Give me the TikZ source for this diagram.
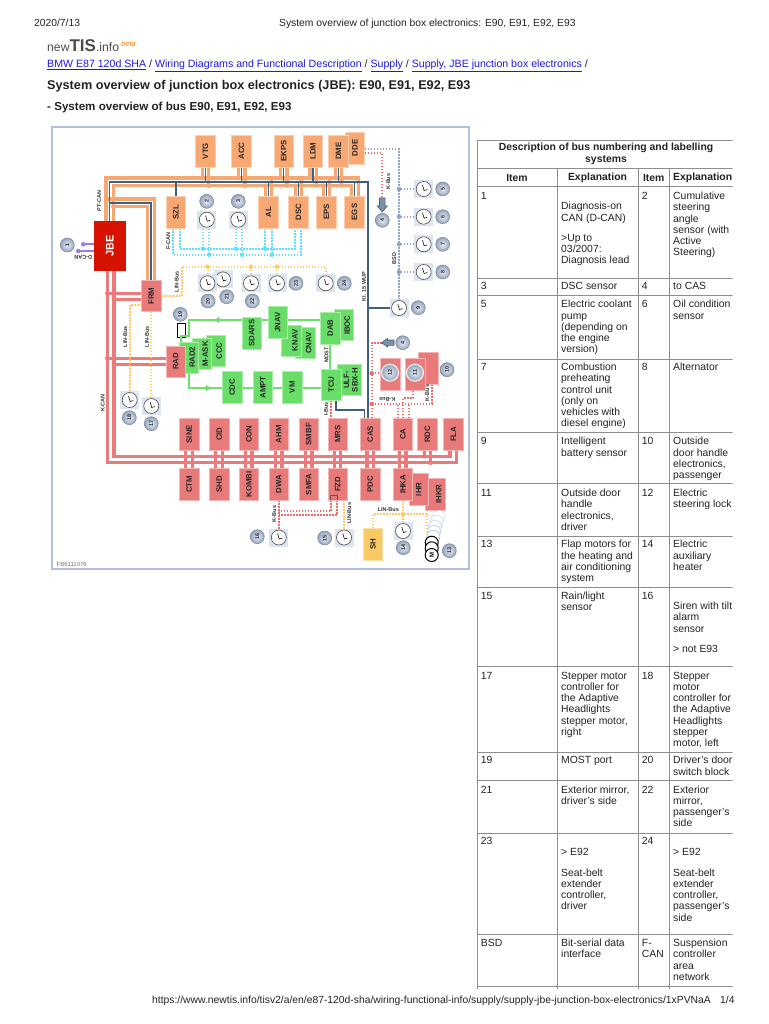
\documentclass[tikz,border=0pt]{standalone}
\usepackage{fontspec}
\usepackage{graphicx}
\setmainfont{Liberation Sans}
\usetikzlibrary{backgrounds,arrows.meta,calc}
\definecolor{orgbox}{HTML}{F7A873}
\definecolor{redbox}{HTML}{E97A7A}
\definecolor{grnbox}{HTML}{68DE68}
\definecolor{jbered}{HTML}{D61200}
\definecolor{shyel}{HTML}{F9C964}
\definecolor{orgline}{HTML}{F7A872}
\definecolor{redline}{HTML}{EC7A7A}
\definecolor{grnline}{HTML}{6EE06E}
\definecolor{darkbus}{HTML}{40607F}
\definecolor{cyanbus}{HTML}{5CE2FF}
\definecolor{yelbus}{HTML}{FFCC66}
\definecolor{rdotbus}{HTML}{F06C6C}
\definecolor{bsdbus}{HTML}{8EA6CF}
\definecolor{purp}{HTML}{9A7DEB}
\definecolor{frameblue}{HTML}{AFC0DE}
\definecolor{gaugebg}{HTML}{DCE5F0}
\definecolor{gridg}{HTML}{8E8E8E}
\definecolor{linkblue}{HTML}{1A1AE6}
\definecolor{bodytxt}{HTML}{222222}
\newcommand{\vt}[1]{\rotatebox{90}{#1}}
\newcommand{\vs}[1]{\hspace*{7pt}\rotatebox{90}{#1}}
\newcommand{\lnk}[1]{{\color{linkblue}\underline{#1}}}
\newcommand{\jdot}[2]{\fill[#1] #2 circle (2.3pt);}
\newcommand{\tcell}[4]{\node[tcellst] (#1) at (#2,{#3-4.3}) {\rule{0pt}{8pt}#4};}
\newcommand{\gauge}[3]{%
  \node[gaugesq] (#1) at (#2,#3) {};
  \node[gaugedial] (#1d) at (#1.center) {};
  \draw[line width=.55pt,black] ($(#1.center)+(-1.2,-4)$) -- ($(#1.center)+(.4,1.5)$) -- ($(#1.center)+(3.6,.6)$);
}
\newcommand{\numb}[4]{\node[numdisc] (#1) at (#2,#3) {\vt{#4}};}
\newcommand{\ptop}[1]{%
  \draw[orgb] ([xshift=-3pt]#1.south) -- ([xshift=-3pt]#1.south |- pu);
  \draw[orgb] ([xshift=3.3pt]#1.south) -- ([xshift=3.3pt]#1.south |- pl);
  \draw[dkb] (#1.south) -- (#1.south |- pd);
  \jdot{orgline}{([xshift=-3pt]#1.south |- pu)}
  \jdot{orgline}{([xshift=3.3pt]#1.south |- pl)}
}
\newcommand{\pbot}[1]{%
  \draw[orgb] ([xshift=-3.2pt]#1.north) -- ([xshift=-3.2pt]#1.north |- pl);
  \draw[orgb] ([xshift=3pt]#1.north) -- ([xshift=3pt]#1.north |- pu);
  \draw[dkb] (#1.north) -- (#1.north |- pd);
  \jdot{orgline}{([xshift=-3.2pt]#1.north |- pl)}
  \jdot{orgline}{([xshift=3pt]#1.north |- pu)}
}
\newcommand{\kstub}[2]{%
  \draw[kb] ([xshift=-3.5pt]#1.south) -- ([xshift=-3.5pt]#2.north);
  \draw[kb] ([xshift=3pt]#1.south) -- ([xshift=3pt]#2.north);
  \jdot{redline}{([xshift=-3.5pt]#1.south |- ku)}
  \jdot{redline}{([xshift=3pt]#1.south |- kl)}
}
\tikzset{
  ecu/.style={minimum width=19.5pt,minimum height=32pt,inner sep=0,outer sep=0,line width=.6pt,font=\fontsize{7.8}{9}\selectfont\bfseries,text=black!85},
  orgecu/.style={ecu,fill=orgbox,draw=orgbox!55!white},
  redecu/.style={ecu,fill=redbox,draw=redbox!55!white},
  grnecu/.style={ecu,fill=grnbox,draw=grnbox!55!white},
  gaugesq/.style={fill=gaugebg,minimum width=19pt,minimum height=18pt,inner sep=0,outer sep=0},
  gaugedial/.style={circle,fill=white,draw=black!70,line width=.6pt,minimum size=15pt,inner sep=0},
  numdisc/.style={circle,shading=radial,inner color=gaugebg!70!white,outer color=frameblue!85!black,draw=frameblue!70!black,line width=.5pt,minimum size=14pt,inner sep=0,font=\fontsize{5.4}{6}\selectfont\bfseries,text=black!85},
  buslab/.style={inner sep=0,font=\fontsize{5.5}{6}\selectfont\bfseries,text=black!80},
  orgb/.style={draw=orgline,line width=3.5pt},
  dkb/.style={draw=darkbus,line width=1.6pt},
  kb/.style={draw=redline,line width=3.4pt},
  gb/.style={draw=grnline,line width=2.2pt},
  cyb/.style={draw=cyanbus,line width=2pt,dash pattern=on 1.7pt off 1.3pt},
  yeb/.style={draw=yelbus,line width=2pt,dash pattern=on 1.7pt off 1.3pt},
  rdb/.style={draw=rdotbus,line width=2pt,dash pattern=on 1.7pt off 1.3pt},
  bsb/.style={draw=bsdbus,line width=2pt,dash pattern=on 1.7pt off 1.3pt},
  tcellst/.style={anchor=north west,inner sep=0,align=left,text=bodytxt,font=\fontsize{10.4}{11.2}\selectfont},
  thead/.style={inner sep=0,align=center,text=bodytxt,font=\fontsize{10.4}{11.7}\selectfont\bfseries},
  pagetxt/.style={anchor=base west,inner sep=0,text=bodytxt},
}
\begin{document}
\begin{tikzpicture}[x=1pt,y=-1pt]
\useasboundingbox (0,0) rectangle (768,1024);

% ---------- page header
\node[pagetxt,font=\fontsize{10.3}{11}\selectfont] (hdate) at (34,27) {2020/7/13};
\node[pagetxt,font=\fontsize{10.3}{11}\selectfont] (htitle) at (279,27) {System overview of junction box electronics: E90, E91, E92, E93};
\node[pagetxt,text=black!70,font=\fontsize{12.2}{14}\selectfont] (logo) at (47,52) {new{\fontsize{17}{18}\selectfont\bfseries TIS}.info};
\node[pagetxt,text=orange,font=\fontsize{7.5}{8}\selectfont\itshape] (logob) at (121,47) {beta};
\node[pagetxt,font=\fontsize{10.6}{12}\selectfont] (links) at (47,68) {\lnk{BMW E87 120d SHA} / \lnk{Wiring Diagrams and Functional Description} / \lnk{Supply} / \lnk{Supply, JBE junction box electronics} /};
\node[pagetxt,font=\fontsize{12.67}{15}\selectfont\bfseries] (ttl) at (47,89.5) {System overview of junction box electronics (JBE): E90, E91, E92, E93};
\node[pagetxt,font=\fontsize{11.6}{13}\selectfont\bfseries] (sttl) at (47,111) {- System overview of bus E90, E91, E92, E93};
\node[pagetxt,font=\fontsize{10.34}{11}\selectfont] (furl) at (152,1003.5) {https://www.newtis.info/tisv2/a/en/e87-120d-sha/wiring-functional-info/supply/supply-jbe-junction-box-electronics/1xPVNaA};
\node[pagetxt,font=\fontsize{10.34}{11}\selectfont] (fpg) at (720,1003.5) {1/4};

% ---------- ECU boxes
\node[orgecu] (DDE) at (355,148) {\vt{DDE}};
\node[orgecu] (VTG) at (205.4,151) {\vt{VTG}};
\node[orgecu] (ACC) at (241.5,151) {\vt{ACC}};
\node[orgecu] (EKPS) at (283.6,151) {\vt{EKPS}};
\node[orgecu] (LDM) at (313,151) {\vt{LDM}};
\node[orgecu] (DME) at (338.4,151) {\vt{DME}};
\node[orgecu] (SZL) at (176,212) {\vt{SZL}};
\node[orgecu] (AL) at (268.5,212) {\vt{AL}};
\node[orgecu] (DSC) at (298.5,212) {\vt{DSC}};
\node[orgecu] (EPS) at (326.5,212) {\vt{EPS}};
\node[orgecu] (EGS) at (354.5,212) {\vt{EGS}};

\node[ecu,fill=jbered,minimum width=32.6pt,minimum height=50pt,text=white,font=\fontsize{11}{12}\selectfont\bfseries] (JBE) at (110,246) {\vt{JBE}};
\node[redecu,minimum height=31pt] (FRM) at (151.3,296.2) {\vt{FRM}};

\node[grnecu,minimum height=31pt] (CCC) at (215.7,351) {\vs{CCC}};
\node[grnecu,minimum height=31pt] (MASK) at (201.7,354) {\vs{M-ASK}};
\node[grnecu,minimum height=31pt] (RADZ) at (188.7,357.3) {\vs{RAD2}};
\node[redecu,minimum height=31pt] (RAD) at (175.7,361.3) {\vt{RAD}};
\node[grnecu] (SDARS) at (251.7,333) {\vt{SDARS}};
\node[grnecu,minimum height=31pt] (CNAV) at (305.2,343) {\vs{CNAV}};
\node[grnecu,minimum height=31pt] (KNAV) at (291.5,340.5) {\vs{KNAV}};
\node[grnecu] (JNAV) at (277.8,322.5) {\vt{JNAV}};
\node[grnecu,minimum height=31pt] (IBOC) at (343.8,325.2) {\vs{IBOC}};
\node[grnecu] (DAB) at (330.2,328) {\vt{DAB}};
\node[grnecu,minimum width=24.7pt,minimum height=31pt] (ULF) at (349.3,380) {\hspace*{3pt}\vt{\shortstack{ULF-\\SBX-H}}};
\node[grnecu,minimum height=31pt] (TCU) at (331.3,384.5) {\vt{TCU}};
\node[grnecu] (CDC) at (232.3,387.3) {\vt{CDC}};
\node[grnecu] (AMPT) at (263,387.3) {\vt{AMPT}};
\node[grnecu] (VM) at (292.3,387.3) {\vt{VM}};

\node[redecu] (SINE) at (189.2,434.2) {\vt{SINE}};
\node[redecu] (CID) at (219.2,434.2) {\vt{CID}};
\node[redecu] (CON) at (248.9,434.2) {\vt{CON}};
\node[redecu] (AHM) at (278.8,434.2) {\vt{AHM}};
\node[redecu] (SMBF) at (308.8,434.2) {\vt{SMBF}};
\node[redecu] (MRS) at (337.7,434.2) {\vt{MRS}};
\node[redecu] (CAS) at (370.3,434.2) {\vt{CAS}};
\node[redecu] (CA) at (403,434.2) {\vt{CA}};
\node[redecu] (RDC) at (427.5,434.2) {\vt{RDC}};
\node[redecu] (FLA) at (453.5,434.2) {\vt{FLA}};
\node[redecu] (CTM) at (189.2,484.3) {\vt{CTM}};
\node[redecu] (SHD) at (219.2,484.3) {\vt{SHD}};
\node[redecu] (KOMBI) at (248.9,484.3) {\vt{KOMBI}};
\node[redecu] (DWA) at (278.8,484.3) {\vt{DWA}};
\node[redecu] (SMFA) at (308.8,484.3) {\vt{SMFA}};
\node[redecu] (FZD) at (337.7,484.3) {\vt{FZD}};
\node[redecu] (PDC) at (370.3,484.3) {\vt{PDC}};
\node[redecu] (IHKR) at (435.3,494.2) {\vs{IHKR}};
\node[redecu] (IHR) at (418.8,489.3) {\vt{IHR}};
\node[redecu] (IHKA) at (403,484.3) {\vt{IHKA}};
\node[ecu,fill=shyel,draw=shyel!55!white] (SH) at (373,544.2) {\vt{SH}};
\node[redecu,minimum width=20pt] (BTEN) at (428.3,368.2) {};
\node[redecu,minimum width=20pt] (BELV) at (415,374.2) {};
\node[redecu,minimum width=20pt] (BTWL) at (390,374.2) {};
\draw[line width=.5pt,draw=black!45!redbox] (330,500.2) -- (330,495.7) -- (337.7,495.7) -- (337.7,500.2);

% ---------- gauges
\gauge{g21}{223}{279.4}
\gauge{g20}{207.5}{283.3}
\gauge{g22}{251}{283.3}
\gauge{g23}{277}{283.3}
\gauge{g24}{325.7}{283.3}
\gauge{g2}{206.8}{219.7}
\gauge{g3}{238.3}{219.7}
\gauge{g5}{423.7}{189}
\gauge{g6}{423.7}{216.7}
\gauge{g7}{423.7}{244.3}
\gauge{g8}{423.7}{272}
\gauge{g9}{399}{308}
\gauge{g18}{129.7}{400}
\gauge{g17}{151.3}{406}
\gauge{g16}{278.8}{537.5}
\gauge{g15}{344}{537.5}
\gauge{g14}{403}{531}

% ---------- motors (13)
\foreach \mx/\my/\mo in {438.3/516.7/25,436.7/521.7/35,435/526.7/45,434/531.7/55,433.3/536.7/70}{
  \draw[draw=frameblue,fill=white,line width=.7pt,opacity=\mo/100+.2] (\mx,\my) circle (6.5pt);
}
\draw[draw=black,fill=white,line width=1pt] (431.7,542.7) circle (6.5pt);
\draw[draw=black,fill=white,line width=1pt] (431.7,548.3) circle (6.5pt);
\node[circle,draw=black,fill=white,line width=1pt,minimum size=13pt,inner sep=0,font=\fontsize{6}{7}\selectfont\bfseries] (mot) at (431.7,555) {\vt{M}};

% ---------- numbered discs
\numb{n1}{67.3}{245}{1}
\numb{n2}{206.7}{201.3}{2}
\numb{n3}{238.3}{201.3}{3}
\numb{n4a}{382.3}{220.3}{4}
\numb{n4b}{402.7}{342.7}{4}
\numb{n5}{442.7}{189}{5}
\numb{n6}{442.7}{216.7}{6}
\numb{n7}{442.7}{244.3}{7}
\numb{n8}{442.7}{272}{8}
\numb{n9}{418.3}{307.7}{9}
\numb{n10}{447}{369.7}{10}
\node[numdisc,minimum size=17pt,draw=white,line width=1pt] (n11) at (415,372.7) {\vt{11}};
\node[numdisc,minimum size=17pt,draw=white,line width=1pt] (n12) at (390,372.7) {\vt{12}};
\numb{n13}{449.3}{550.7}{13}
\numb{n14}{403.3}{547.7}{14}
\numb{n15}{324.7}{538}{15}
\numb{n16}{257.3}{536.7}{16}
\numb{n17}{151.3}{423.7}{17}
\numb{n18}{129.3}{417.7}{18}
\numb{n19}{180.3}{314.3}{19}
\numb{n20}{208}{301}{20}
\numb{n21}{226.7}{296.7}{21}
\numb{n22}{252.3}{301}{22}
\numb{n23}{296}{283.3}{23}
\numb{n24}{344.3}{283.3}{24}

% ---------- bus labels
\node[buslab,rotate=90] (lpt) at (99.3,201) {PT-CAN};
\node[buslab,rotate=90] (lf) at (168.3,241) {F-CAN};
\node[buslab,rotate=180] (ld) at (83.3,257.3) {D-CAN};
\node[buslab,rotate=90] (llin1) at (176.7,281.7) {LIN-Bus};
\node[buslab,rotate=90] (llin2) at (125.3,336.7) {LIN-Bus};
\node[buslab,rotate=90] (llin3) at (147,336.7) {LIN-Bus};
\node[buslab,rotate=90] (lk) at (102.7,403) {K-CAN};
\node[buslab,rotate=90] (lkb1) at (388.3,181.7) {K-Bus};
\node[buslab,rotate=90] (lbsd) at (394.3,258.3) {BSD};
\node[buslab,rotate=90] (lkl) at (364,286.7) {Kl. 15 WUP};
\node[buslab,rotate=90] (lmost) at (326.5,355) {MOST};
\node[buslab,rotate=90] (libus) at (326,409) {I-Bus};
\node[buslab,rotate=180] (lkb2) at (387.3,399.7) {K-Bus};
\node[buslab,rotate=90] (lkb3) at (427.3,393) {K-Bus};
\node[buslab,rotate=90] (lkb4) at (274.3,514) {K-Bus};
\node[buslab,rotate=90] (llin4) at (349.3,513.3) {LIN-Bus};
\node[buslab] (llin5) at (388.3,510) {LIN-Bus};
\node[inner sep=0,text=black!55,font=\fontsize{6}{7}\selectfont] (fig) at (71.7,564) {FB6111076};

% ---------- connectors, under the boxes
\coordinate (pu) at (0,178);
\coordinate (pd) at (0,182.3);
\coordinate (pl) at (0,185.7);
\coordinate (dkc) at (368,182.3);
\coordinate (ku) at (0,456.3);
\coordinate (kl) at (0,462.7);
\coordinate (cu) at (0,248.7);
\coordinate (cl) at (0,254.7);
\coordinate (ly) at (181.7,266.7);
\coordinate (kA) at (107.3,0);
\coordinate (kB) at (114,0);
\coordinate (ptA) at (106,199);
\coordinate (ptB) at (109.3,203);
\coordinate (ptC) at (113.3,206.3);
\coordinate (ryU) at (371.7,373.3);
\coordinate (ryL) at (371.7,404);
\coordinate (arD) at (382.3,198);
\coordinate (arL) at (381.7,342.7);
\coordinate (rw1) at (0,511.3);
\coordinate (rw2) at (0,514.7);
\coordinate (lz) at (0,514.3);
\coordinate (motin) at (426.7,540);
\coordinate (tc) at (364.3,410);
\coordinate (g1a) at (189,320);
\coordinate (g1b) at (189,336);
\coordinate (g1c) at (180.7,336);
\coordinate (g2a) at (189,388);
\coordinate (d1) at (83.3,244.3);
\coordinate (d2) at (78.3,251);

\begin{scope}[on background layer]
  \draw[frameblue,line width=1.5pt] (52,127) rectangle (469,569);
  % PT-CAN
  \draw[orgb] ([xshift=-4pt]JBE.north) |- ([xshift=3.8pt]EGS.north |- pu) -- ([xshift=3.8pt]EGS.north);
  \draw[orgb] ([xshift=3.3pt]JBE.north) |- ([xshift=-2.8pt]EGS.north |- pl) -- ([xshift=-2.8pt]EGS.north);
  \draw[orgb] (ptA) -| ([xshift=3pt]FRM.north);
  \draw[orgb] (ptC) -| ([xshift=-4pt]FRM.north);
  \jdot{orgline}{(ptA)}
  \jdot{orgline}{(ptC)}
  \ptop{VTG}\ptop{ACC}\ptop{EKPS}\ptop{LDM}\ptop{DME}
  \pbot{AL}\pbot{DSC}\pbot{EPS}
  \draw[dkb] ([xshift=-.7pt]JBE.north) |- (dkc) -- ([xshift=-2.3pt]CAS.north);
  \draw[dkb] (ptB) -| ([xshift=-.6pt]FRM.north);
  \draw[dkb] (SZL.north) -- (SZL.north |- pd);
  \draw[dkb] (EGS.north) -- (EGS.north |- pd);
  \draw[dkb] ([xshift=4.7pt]TCU.south) |- (tc) -- (tc |- CAS.north);
  \draw[dkb] (g9.west) -- (g9.west -| dkc);
  % K-CAN
  \draw[kb] ([xshift=-2.7pt]JBE.south) |- ([xshift=3.2pt]FLA.south |- kl) -- ([xshift=3.2pt]FLA.south);
  \draw[kb] ([xshift=4pt]JBE.south) |- ([xshift=-3.5pt]FLA.south |- ku) -- ([xshift=-3.5pt]FLA.south);
  \coordinate (f1) at ([yshift=2.9pt]FRM.west);
  \coordinate (f2) at ([yshift=-3.1pt]FRM.west);
  \coordinate (f3) at ([yshift=3pt]RAD.west);
  \coordinate (f4) at ([yshift=-3pt]RAD.west);
  \draw[kb] (f1) -- (kA |- f1); \jdot{redline}{(kA |- f1)}
  \draw[kb] (f2) -- (kB |- f2); \jdot{redline}{(kB |- f2)}
  \draw[kb] (f3) -- (kA |- f3); \jdot{redline}{(kA |- f3)}
  \draw[kb] (f4) -- (kB |- f4); \jdot{redline}{(kB |- f4)}
  \kstub{SINE}{CTM}\kstub{CID}{SHD}\kstub{CON}{KOMBI}\kstub{AHM}{DWA}\kstub{SMBF}{SMFA}\kstub{MRS}{FZD}\kstub{CAS}{PDC}\kstub{CA}{IHKA}
  \draw[kb] ([xshift=-3.3pt]RDC.south) -- ([xshift=-3.3pt]RDC.south |- ku);
  \draw[kb] ([xshift=3pt]RDC.south) -- ([xshift=3pt]RDC.south |- kl);
  \jdot{redline}{([xshift=-3.3pt]RDC.south |- ku)}
  \jdot{redline}{([xshift=3pt]RDC.south |- kl)}
  % D-CAN
  \draw[purp,line width=2pt] (d1) -- (d1 -| JBE.west);
  \draw[purp,line width=2pt] (d2) -- (d2 -| JBE.west);
  \jdot{purp}{(d1)}
  \jdot{purp}{(d2)}
  % F-CAN
  \draw[cyb] ([xshift=3.7pt]SZL.south) -- ([xshift=3.7pt]SZL.south |- cu) -- ([xshift=-3.5pt]DSC.south |- cu) -- ([xshift=-3.5pt]DSC.south);
  \draw[cyb] ([xshift=-2.7pt]SZL.south) -- ([xshift=-2.7pt]SZL.south |- cl) -- ([xshift=2.5pt]DSC.south |- cl) -- ([xshift=2.5pt]DSC.south);
  \draw[cyb] ([xshift=-3.8pt]g2.south) -- ([xshift=-3.8pt]g2.south |- cu);
  \draw[cyb] ([xshift=2.5pt]g2.south) -- ([xshift=2.5pt]g2.south |- cl);
  \draw[cyb] ([xshift=-2.6pt]g3.south) -- ([xshift=-2.6pt]g3.south |- cu);
  \draw[cyb] ([xshift=3.7pt]g3.south) -- ([xshift=3.7pt]g3.south |- cl);
  \draw[cyb] ([xshift=-3.5pt]AL.south) -- ([xshift=-3.5pt]AL.south |- cu);
  \draw[cyb] ([xshift=3.2pt]AL.south) -- ([xshift=3.2pt]AL.south |- cl);
  \jdot{cyanbus}{([xshift=-3.8pt]g2.south |- cu)}
  \jdot{cyanbus}{([xshift=2.5pt]g2.south |- cl)}
  \jdot{cyanbus}{([xshift=-2.6pt]g3.south |- cu)}
  \jdot{cyanbus}{([xshift=3.7pt]g3.south |- cl)}
  \jdot{cyanbus}{([xshift=-3.5pt]AL.south |- cu)}
  \jdot{cyanbus}{([xshift=3.2pt]AL.south |- cl)}
  % LIN-Bus
  \draw[yeb] (FRM.east) -| (ly) -- (g24.north |- ly) -- (g24.north);
  \draw[yeb] (g20.north) -- (g20.north |- ly);
  \draw[yeb] (g22.north) -- (g22.north |- ly);
  \draw[yeb] (g23.north) -- (g23.north |- ly);
  \jdot{yelbus}{(g20.north |- ly)}
  \jdot{yelbus}{(g22.north |- ly)}
  \jdot{yelbus}{(g23.north |- ly)}
  \draw[yeb] ([yshift=-9.1pt]FRM.west) -| (g18.north);
  \draw[yeb] (FRM.south) -- (g17.north);
  \draw[yeb] ([xshift=6.3pt]FZD.south) -- (g15.north);
  \draw[yeb] (IHKA.south) -- (g14.north);
  \draw[yeb] (SH.north) |- (lz -| motin) -- (motin);
  \jdot{yelbus}{(g14.north |- lz)}
  % BSD
  \draw[bsb] ([yshift=-1.3pt]DDE.east) -| (g9.north);
  \draw[bsb] (g5.west) -- (g5.west -| g9.north); \jdot{bsdbus}{(g5.west -| g9.north)}
  \draw[bsb] (g6.west) -- (g6.west -| g9.north); \jdot{bsdbus}{(g6.west -| g9.north)}
  \draw[bsb] (g7.west) -- (g7.west -| g9.north); \jdot{bsdbus}{(g7.west -| g9.north)}
  \draw[bsb] (g8.west) -- (g8.west -| g9.north); \jdot{bsdbus}{(g8.west -| g9.north)}
  % K-Bus
  \draw[rdb] ([yshift=-5.3pt]DDE.east) -| (arD);
  \draw[rdb] (arL) -| ([xshift=1.4pt]CAS.north);
  \draw[rdb] (ryU) -- (BTWL.west |- ryU); \jdot{rdotbus}{(ryU)}
  \draw[rdb] (ryL) -| ([xshift=3.4pt]BTEN.south); \jdot{rdotbus}{(ryL)}
  \draw[rdb] ([xshift=-4.7pt]CA.north) -- ([xshift=-4.7pt]CA.north |- ryL);
  \draw[rdb] ([xshift=6pt]CA.north) -- ([xshift=6pt]CA.north |- ryL);
  \draw[rdb] ([xshift=.3pt]CA.north) |- ([xshift=-1.7pt,yshift=-7.5pt]BELV.south) -- ([xshift=-1.7pt]BELV.south);
  \draw[rdb] ([xshift=-6.4pt]FZD.south) |- (DWA.south |- rw1);
  \draw[rdb] ([xshift=-.4pt]FZD.south) |- (DWA.south |- rw2);
  \draw[rdb] (DWA.south) -- (g16.north);
  \draw[rdb] (TCU.south) -- (TCU.south |- MRS.north);
  % MOST
  \draw[black,line width=.8pt,fill=white] (177.3,323.7) rectangle (185.7,337.7);
  \draw[gb] (DAB.west |- g1a) -- (g1a) -- (g1b) -- (g1c) -- (g1c |- RADZ.north);
  \draw[gb] (RADZ.south -| g1a) -- (g2a) -- (TCU.west |- g2a);
  \draw[gb] (DAB.south) -- (TCU.north -| DAB.south);
  \fill[grnline] (219.5,316.8) -- (214.5,320) -- (219.5,323.2) -- cycle;
  \fill[grnline] (206,384.8) -- (211,388) -- (206,391.2) -- cycle;
\end{scope}
\draw[fill=darkbus!70!white,draw=darkbus,line width=.6pt] (379.5,198) -- (385.1,198) -- (385.1,206) -- (387.3,206) -- (382.3,212) -- (377.3,206) -- (379.5,206) -- cycle;
\draw[fill=darkbus!70!white,draw=darkbus,line width=.6pt] (394,340) -- (387.5,340) -- (387.5,338.4) -- (381.5,342.7) -- (387.5,347) -- (387.5,345.4) -- (394,345.4) -- cycle;

% ---------- table
\begin{scope}
\clip (470,130) rectangle (732.5,995);
\draw[gridg,line width=1pt] (477.7,140.7) -- (477.7,989);
\draw[gridg,line width=1pt] (557.3,168.3) -- (557.3,989);
\draw[gridg,line width=1pt] (638.3,168.3) -- (638.3,989);
\draw[gridg,line width=1pt] (669.3,168.3) -- (669.3,989);
\foreach \ry in {140.7,168.3,186.7,278,295.7,359,432.3,483.3,536,587.3,666,752,780,833,934.3,986.3}{
  \draw[gridg,line width=1pt] (477.2,\ry) -- (733,\ry);
}
\node[thead] (th0) at (606,153.8) {Description of bus numbering and labelling\\systems};
\node[thead] (th1) at (517,177.7) {Item};
\node[thead] (th2) at (597.5,177.7) {Explanation};
\node[thead] (th3) at (653.7,177.7) {Item};
\node[thead,anchor=west] (th4) at (673,177.7) {Explanation};
\tcell{a1}{480.7}{195.7}{1}
\tcell{a2}{561}{206}{Diagnosis-on\\CAN (D-CAN)\\[8.8pt]>Up to\\03/2007:\\Diagnosis lead}
\tcell{a3}{641.7}{195.7}{2}
\tcell{a4}{673}{195.7}{Cumulative\\steering\\angle\\sensor (with\\Active\\Steering)}
\tcell{b1}{480.7}{286}{3}
\tcell{b2}{561}{286}{DSC sensor}
\tcell{b3}{641.7}{286}{4}
\tcell{b4}{673}{286}{to CAS}
\tcell{c1}{480.7}{304}{5}
\tcell{c2}{561}{304}{Electric coolant\\pump\\(depending on\\the engine\\version)}
\tcell{c3}{641.7}{304}{6}
\tcell{c4}{673}{304}{Oil condition\\sensor}
\tcell{d1c}{480.7}{366.7}{7}
\tcell{d2c}{561}{366.7}{Combustion\\preheating\\control unit\\(only on\\vehicles with\\diesel engine)}
\tcell{d3c}{641.7}{366.7}{8}
\tcell{d4c}{673}{366.7}{Alternator}
\tcell{e1}{480.7}{441}{9}
\tcell{e2}{561}{441}{Intelligent\\battery sensor}
\tcell{e3}{641.7}{441}{10}
\tcell{e4}{673}{441}{Outside\\door handle\\electronics,\\passenger}
\tcell{f1c}{480.7}{492.7}{11}
\tcell{f2c}{561}{492.7}{Outside door\\handle\\electronics,\\driver}
\tcell{f3c}{641.7}{492.7}{12}
\tcell{f4c}{673}{492.7}{Electric\\steering lock}
\tcell{h1}{480.7}{544}{13}
\tcell{h2}{561}{544}{Flap motors for\\the heating and\\air conditioning\\system}
\tcell{h3}{641.7}{544}{14}
\tcell{h4}{673}{544}{Electric\\auxiliary\\heater}
\tcell{i1}{480.7}{595.3}{15}
\tcell{i2}{561}{595.3}{Rain/light\\sensor}
\tcell{i3}{641.7}{595.3}{16}
\tcell{i4}{673}{605.7}{Siren with tilt\\alarm\\sensor\\[9.6pt]> not E93}
\tcell{j1}{480.7}{675.3}{17}
\tcell{j2}{561}{675.3}{Stepper motor\\controller for\\the Adaptive\\Headlights\\stepper motor,\\right}
\tcell{j3}{641.7}{675.3}{18}
\tcell{j4}{673}{675.3}{Stepper\\motor\\controller for\\the Adaptive\\Headlights\\stepper\\motor, left}
\tcell{k1}{480.7}{760}{19}
\tcell{k2}{561}{760}{MOST port}
\tcell{k3}{641.7}{760}{20}
\tcell{k4}{673}{760}{Driver's door\\switch block}
\tcell{m1}{480.7}{789.3}{21}
\tcell{m2}{561}{789.3}{Exterior mirror,\\driver's side}
\tcell{m3}{641.7}{789.3}{22}
\tcell{m4}{673}{789.3}{Exterior\\mirror,\\passenger's\\side}
\tcell{o1}{480.7}{840.7}{23}
\tcell{o2}{561}{851.3}{> E92\\[9.8pt]Seat-belt\\extender\\controller,\\driver}
\tcell{o3}{641.7}{840.7}{24}
\tcell{o4}{673}{851.3}{> E92\\[9.8pt]Seat-belt\\extender\\controller,\\passenger's\\side}
\tcell{q1}{480.7}{942.7}{BSD}
\tcell{q2}{561}{942.7}{Bit-serial data\\interface}
\tcell{q3}{641.7}{942.7}{F-\\CAN}
\tcell{q4}{673}{942.7}{Suspension\\controller\\area\\network}
\end{scope}
\end{tikzpicture}
\end{document}
